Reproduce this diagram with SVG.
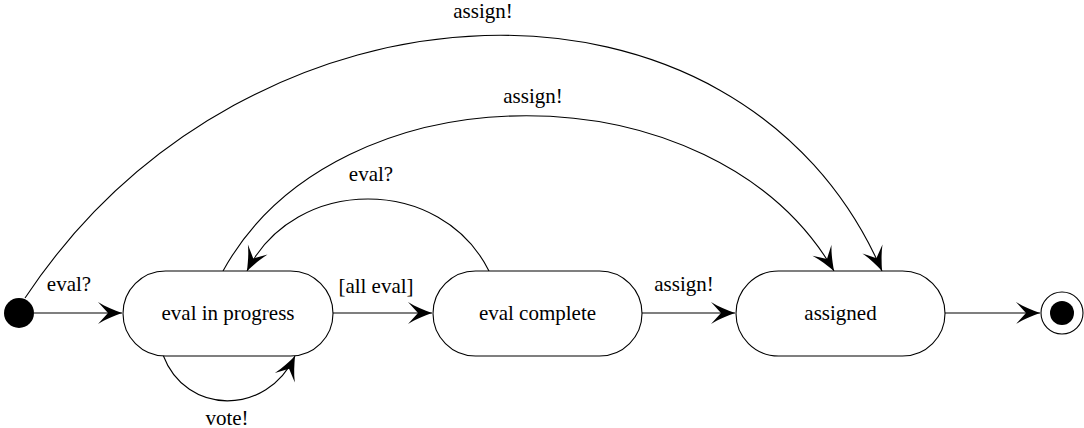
<svg xmlns="http://www.w3.org/2000/svg" width="1084" height="428" viewBox="0 0 1084 428">
<style>
  .state { fill: #ffffff; stroke: #000000; stroke-width: 1.1; }
  .txt { font-family: 'Liberation Serif', 'DejaVu Serif', serif; font-size: 21px; fill: #000000; text-anchor: middle; }
  .edge { fill: none; stroke: #000000; stroke-width: 1.1; marker-end: url(#arr); }
</style>
<defs>
  <marker id="arr" markerUnits="userSpaceOnUse" markerWidth="32" markerHeight="32" viewBox="-28 -16 32 32" refX="0" refY="0" orient="auto">
    <path d="M0,0 C-8,-3 -16,-6 -24,-11 L-14,0 L-24,11 C-16,6 -8,3 0,0 Z" fill="#000000"/>
  </marker>
</defs>
<rect width="1084" height="428" fill="#ffffff"/>

<g id="connectors">
  <path class="edge" d="M34,313 L122,313"/>
  <path class="edge" d="M333,313 L432,313"/>
  <path class="edge" d="M642,313 L735,313"/>
  <path class="edge" d="M945,313 L1040,313"/>
  <path class="edge" d="M25,298 C250,-40 740,-55 882,271"/>
  <path class="edge" d="M223,271 C337,64 714,64 834,271"/>
  <path class="edge" d="M489,271 C441,175 295,175 247,271"/>
  <path class="edge" d="M163,355 C186,416 267,416 295,356"/>
  <text class="txt" font-family="Liberation Serif, DejaVu Serif, serif" x="69" y="291">eval?</text>
  <text class="txt" font-family="Liberation Serif, DejaVu Serif, serif" x="376" y="293">[all eval]</text>
  <text class="txt" font-family="Liberation Serif, DejaVu Serif, serif" x="684" y="291">assign!</text>
  <text class="txt" font-family="Liberation Serif, DejaVu Serif, serif" x="371" y="181">eval?</text>
  <text class="txt" font-family="Liberation Serif, DejaVu Serif, serif" x="533" y="103">assign!</text>
  <text class="txt" font-family="Liberation Serif, DejaVu Serif, serif" x="483" y="18">assign!</text>
  <text class="txt" font-family="Liberation Serif, DejaVu Serif, serif" x="227" y="425">vote!</text>
</g>

<g id="initial">
  <circle cx="19" cy="313" r="15" fill="#000000"/>
</g>
<g id="eval-in-progress">
  <rect class="state" x="123" y="271" width="210" height="85" rx="42.5" ry="42.5"/>
  <text class="txt" font-family="Liberation Serif, DejaVu Serif, serif" x="228" y="320">eval in progress</text>
</g>
<g id="eval-complete">
  <rect class="state" x="433" y="271" width="209" height="85" rx="42.5" ry="42.5"/>
  <text class="txt" font-family="Liberation Serif, DejaVu Serif, serif" x="537.5" y="320">eval complete</text>
</g>
<g id="assigned">
  <rect class="state" x="736" y="271" width="209" height="85" rx="42.5" ry="42.5"/>
  <text class="txt" font-family="Liberation Serif, DejaVu Serif, serif" x="840.5" y="320">assigned</text>
</g>
<g id="final">
  <circle cx="1062" cy="313" r="21" fill="#ffffff" stroke="#000000" stroke-width="1.1"/>
  <circle cx="1062" cy="313" r="12" fill="#000000"/>
</g>
</svg>
